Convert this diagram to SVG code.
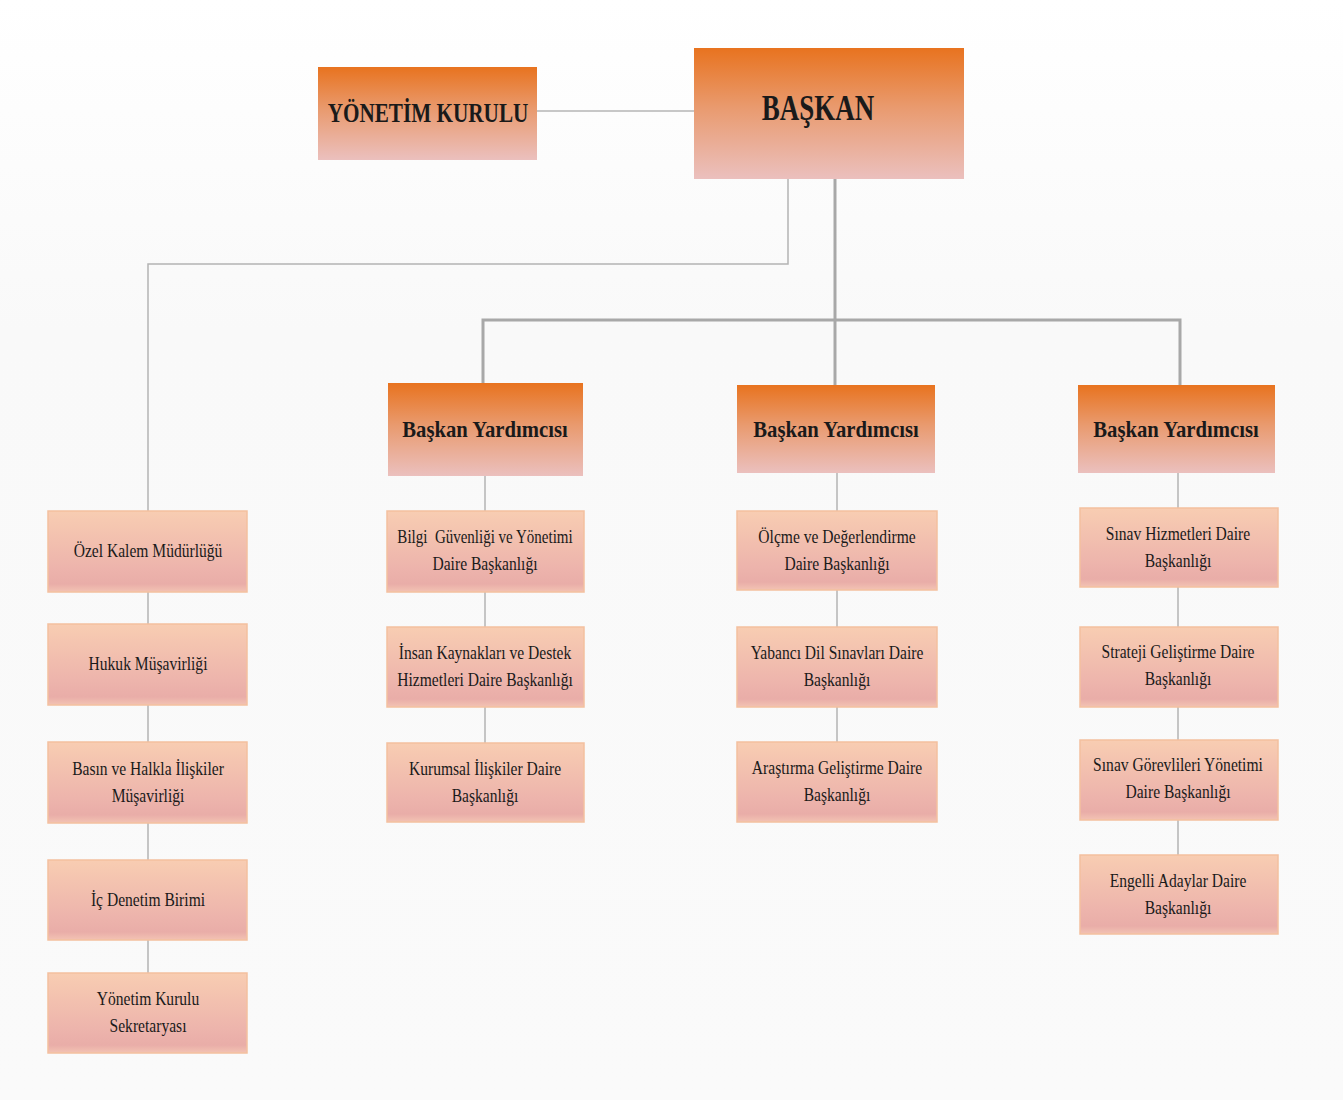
<svg xmlns="http://www.w3.org/2000/svg" width="1343" height="1100" viewBox="0 0 1343 1100">
<defs>
<linearGradient id="gTitle" x1="0" y1="0" x2="0" y2="1">
<stop offset="0" stop-color="#E8731F"/>
<stop offset="0.45" stop-color="#E99A6E"/>
<stop offset="1" stop-color="#EBC0BE"/>
</linearGradient>
<linearGradient id="gSub" x1="0" y1="0" x2="0" y2="1">
<stop offset="0" stop-color="#F8CDB2"/>
<stop offset="0.7" stop-color="#EDB4AC"/>
<stop offset="0.9" stop-color="#E9ADA8"/>
<stop offset="1" stop-color="#F3C3B3"/>
</linearGradient>
<linearGradient id="gBg" x1="0" y1="0" x2="0" y2="1">
<stop offset="0" stop-color="#FFFFFF"/>
<stop offset="0.3" stop-color="#F9F9F9"/>
<stop offset="1" stop-color="#FAFAFA"/>
</linearGradient>
</defs>
<style>
.title{fill:url(#gTitle);}
.sub{fill:url(#gSub);stroke:#F3C09F;stroke-width:1.5;}
.t{font-family:"Liberation Serif","Times New Roman",serif;fill:#1a1a1a;text-anchor:middle;}
.b{font-weight:bold;}
.s{font-size:19px;}
.c{fill:none;stroke:#B4B4B4;stroke-width:1.5;}
.c2{fill:none;stroke:#A8A8A8;stroke-width:3;}
</style>
<rect width="1343" height="1100" fill="url(#gBg)"/>
<g id="connectors">
<path class="c" d="M537 111 H694"/>
<path class="c" d="M788 179 V264 H148 V511"/>
<path class="c2" d="M835 179 V320"/>
<path class="c2" d="M483 383 V320 H1180 V385"/>
<path class="c2" d="M835 320 V385"/>
<path class="c" d="M148 592 V624 M148 705 V742 M148 823 V860 M148 940 V973"/>
<path class="c" d="M485 476 V511 M485 592 V627 M485 707 V743"/>
<path class="c" d="M837 473 V511 M837 590 V627 M837 707 V742"/>
<path class="c" d="M1178 473 V508 M1178 587 V627 M1178 707 V740 M1178 820 V855"/>
</g>
<g id="yonetim-kurulu">
<rect class="title" x="318" y="67" width="219" height="93"/>
<text class="t b" font-size="27" transform="translate(428 122) scale(0.785 1)">YÖNETİM KURULU</text>
</g>
<g id="baskan">
<rect class="title" x="694" y="48" width="270" height="131"/>
<text class="t b" font-size="36" transform="translate(818 120) scale(0.75 1)">BAŞKAN</text>
</g>
<g id="vp1">
<rect class="title" x="388" y="383" width="195" height="93"/>
<text class="t b" font-size="23" transform="translate(485 437) scale(0.9 1)">Başkan Yardımcısı</text>
</g>
<g id="vp2">
<rect class="title" x="737" y="385" width="198" height="88"/>
<text class="t b" font-size="23" transform="translate(836 437) scale(0.9 1)">Başkan Yardımcısı</text>
</g>
<g id="vp3">
<rect class="title" x="1078" y="385" width="197" height="88"/>
<text class="t b" font-size="23" transform="translate(1176 437) scale(0.9 1)">Başkan Yardımcısı</text>
</g>
<g id="ozel-kalem">
<rect class="sub" x="48" y="511" width="199" height="81"/>
<text class="t s" transform="translate(148 557) scale(0.82 1)">Özel Kalem Müdürlüğü</text>
</g>
<g id="hukuk">
<rect class="sub" x="48" y="624" width="199" height="81"/>
<text class="t s" transform="translate(148 670) scale(0.82 1)">Hukuk Müşavirliği</text>
</g>
<g id="basin">
<rect class="sub" x="48" y="742" width="199" height="81"/>
<text class="t s" transform="translate(148 775) scale(0.82 1)">Basın ve Halkla İlişkiler</text>
<text class="t s" transform="translate(148 802) scale(0.82 1)">Müşavirliği</text>
</g>
<g id="ic-denetim">
<rect class="sub" x="48" y="860" width="199" height="80"/>
<text class="t s" transform="translate(148 906) scale(0.82 1)">İç Denetim Birimi</text>
</g>
<g id="yk-sekretarya">
<rect class="sub" x="48" y="973" width="199" height="80"/>
<text class="t s" transform="translate(148 1005) scale(0.82 1)">Yönetim Kurulu</text>
<text class="t s" transform="translate(148 1032) scale(0.82 1)">Sekretaryası</text>
</g>
<g id="bilgi">
<rect class="sub" x="387" y="511" width="197" height="81"/>
<text class="t s" xml:space="preserve" transform="translate(485 543) scale(0.79 1)">Bilgi  Güvenliği ve Yönetimi</text>
<text class="t s" transform="translate(485 570) scale(0.82 1)">Daire Başkanlığı</text>
</g>
<g id="insan">
<rect class="sub" x="387" y="627" width="197" height="80"/>
<text class="t s" transform="translate(485 659) scale(0.82 1)">İnsan Kaynakları ve Destek</text>
<text class="t s" transform="translate(485 686) scale(0.82 1)">Hizmetleri Daire Başkanlığı</text>
</g>
<g id="kurumsal">
<rect class="sub" x="387" y="743" width="197" height="79"/>
<text class="t s" transform="translate(485 775) scale(0.82 1)">Kurumsal İlişkiler Daire</text>
<text class="t s" transform="translate(485 802) scale(0.82 1)">Başkanlığı</text>
</g>
<g id="olcme">
<rect class="sub" x="737" y="511" width="200" height="79"/>
<text class="t s" transform="translate(837 543) scale(0.82 1)">Ölçme ve Değerlendirme</text>
<text class="t s" transform="translate(837 570) scale(0.82 1)">Daire Başkanlığı</text>
</g>
<g id="yabanci">
<rect class="sub" x="737" y="627" width="200" height="80"/>
<text class="t s" transform="translate(837 659) scale(0.82 1)">Yabancı Dil Sınavları Daire</text>
<text class="t s" transform="translate(837 686) scale(0.82 1)">Başkanlığı</text>
</g>
<g id="arastirma">
<rect class="sub" x="737" y="742" width="200" height="80"/>
<text class="t s" transform="translate(837 774) scale(0.82 1)">Araştırma Geliştirme Daire</text>
<text class="t s" transform="translate(837 801) scale(0.82 1)">Başkanlığı</text>
</g>
<g id="sinav-hizmetleri">
<rect class="sub" x="1080" y="508" width="198" height="79"/>
<text class="t s" transform="translate(1178 540) scale(0.82 1)">Sınav Hizmetleri Daire</text>
<text class="t s" transform="translate(1178 567) scale(0.82 1)">Başkanlığı</text>
</g>
<g id="strateji">
<rect class="sub" x="1080" y="627" width="198" height="80"/>
<text class="t s" transform="translate(1178 658) scale(0.82 1)">Strateji Geliştirme Daire</text>
<text class="t s" transform="translate(1178 685) scale(0.82 1)">Başkanlığı</text>
</g>
<g id="sinav-gorevlileri">
<rect class="sub" x="1080" y="740" width="198" height="80"/>
<text class="t s" transform="translate(1178 771) scale(0.82 1)">Sınav Görevlileri Yönetimi</text>
<text class="t s" transform="translate(1178 798) scale(0.82 1)">Daire Başkanlığı</text>
</g>
<g id="engelli">
<rect class="sub" x="1080" y="855" width="198" height="79"/>
<text class="t s" transform="translate(1178 887) scale(0.82 1)">Engelli Adaylar Daire</text>
<text class="t s" transform="translate(1178 914) scale(0.82 1)">Başkanlığı</text>
</g>
</svg>
